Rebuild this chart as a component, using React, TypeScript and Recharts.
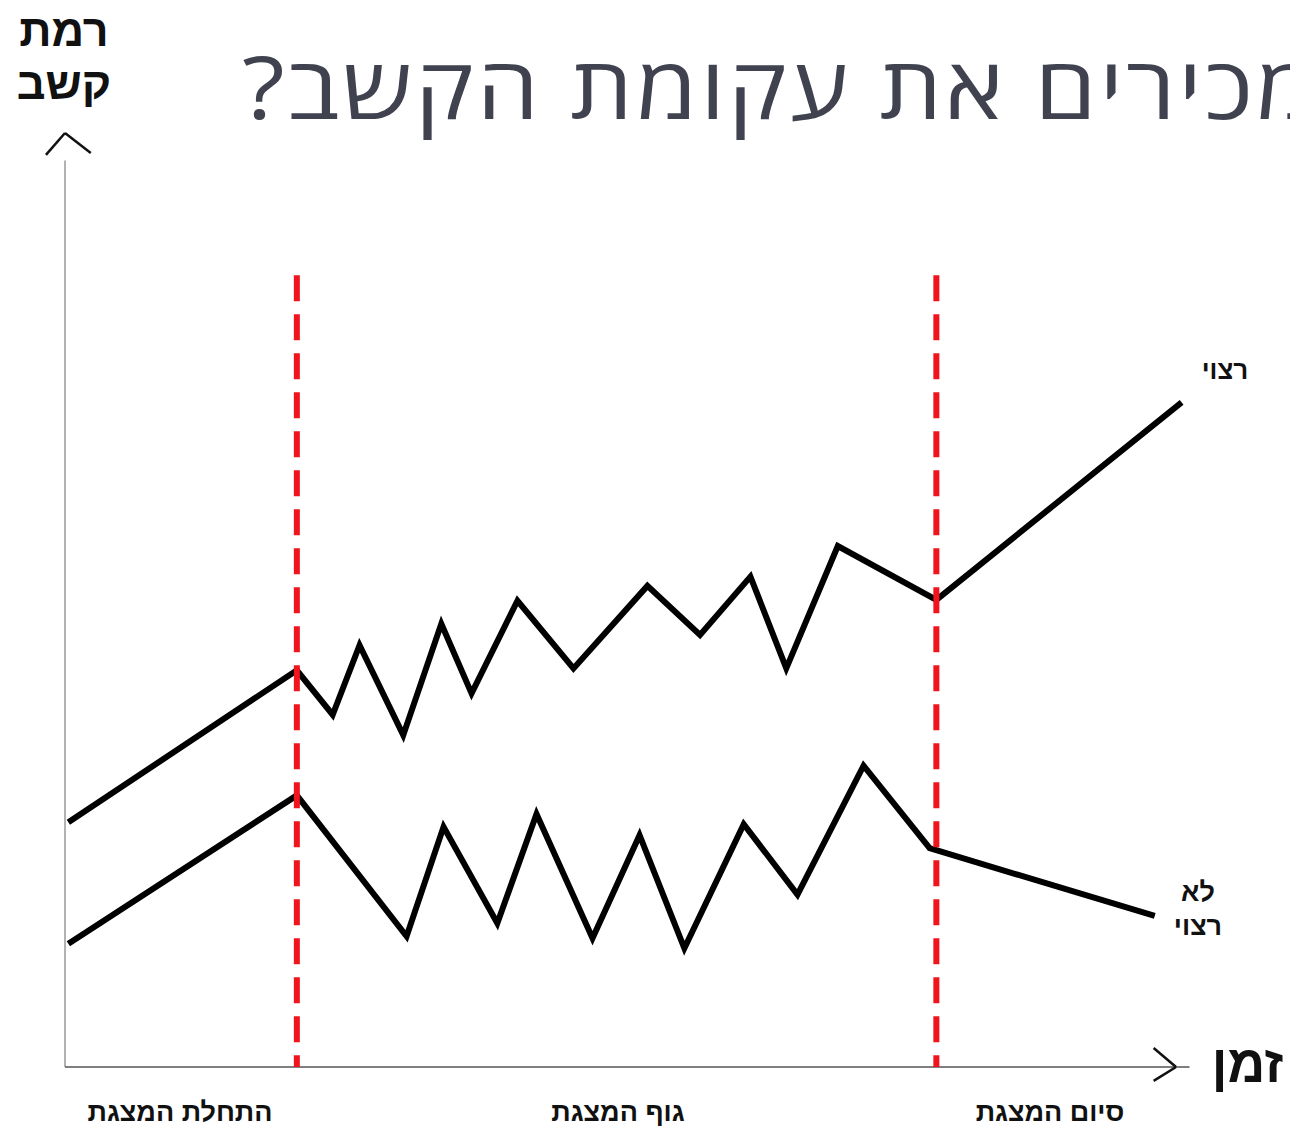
import React from 'react';
import { LineChart, Line, XAxis, YAxis, ReferenceLine } from 'recharts';

// time (0-100) / attention (0-100)
const desiredX = [0.3, 20.7, 23.9, 26.3, 30.2, 33.6, 36.3, 40.4, 45.4, 52.0, 56.7, 61.2, 64.4, 69.0, 77.8, 99.7];
const desiredY = [26.4, 42.8, 38.0, 45.5, 35.8, 47.8, 40.3, 50.3, 43.0, 51.9, 46.6, 52.9, 43.0, 56.2, 50.4, 71.7];

const undesiredX = [0.3, 20.7, 30.5, 33.8, 38.6, 42.1, 47.1, 51.3, 55.3, 60.6, 65.4, 71.3, 77.2, 97.3];
const undesiredY = [13.3, 29.3, 14.1, 25.9, 15.5, 27.3, 13.9, 25.0, 12.8, 26.2, 18.6, 32.5, 23.6, 16.3];

// phase boundaries: start / body / end of the presentation
const phaseBounds = [20.7, 77.8];
const phaseTop = 85.4;

const phaseLabels = ['התחלת המצגת', 'גוף המצגת', 'סיום המצגת'];

const desiredData = desiredX.map((x, i) => ({ x, y: desiredY[i] }));
const undesiredData = undesiredX.map((x, i) => ({ x, y: undesiredY[i] }));

const labelFont = '"Liberation Sans", Arial, sans-serif';

export default function App() {
    return (
        <div style={{ position: 'absolute', left: 0, top: 0, width: 1290, height: 1134, overflow: 'hidden', background: '#fff' }}>
            <LineChart width={1290} height={1134} margin={{ top: 140, right: 105, bottom: 67, left: 65 }}>
                <XAxis type="number" dataKey="x" domain={[0, 100]} hide />
                <YAxis type="number" dataKey="y" domain={[0, 100]} hide />

                {/* axes with arrow heads */}
                <ReferenceLine segment={[{ x: 0, y: 0 }, { x: 0, y: 97.8 }]} stroke="#999" strokeWidth={1.5} ifOverflow="visible" />
                <ReferenceLine segment={[{ x: -1.7, y: 98.4 }, { x: 0, y: 100.75 }]} stroke="#111" strokeWidth={2.5} ifOverflow="visible" />
                <ReferenceLine segment={[{ x: 0, y: 100.75 }, { x: 2.3, y: 98.6 }]} stroke="#111" strokeWidth={2.5} ifOverflow="visible" />
                <ReferenceLine segment={[{ x: 0, y: 0 }, { x: 100.4, y: 0 }]} stroke="#555" strokeWidth={1.5} ifOverflow="visible" />
                <ReferenceLine segment={[{ x: 97.2, y: 2.05 }, { x: 99.2, y: 0 }]} stroke="#111" strokeWidth={2.5} ifOverflow="visible" />
                <ReferenceLine segment={[{ x: 99.2, y: 0 }, { x: 97.2, y: -1.5 }]} stroke="#111" strokeWidth={2.5} ifOverflow="visible" />

                <Line data={desiredData} dataKey="y" type="linear" stroke="#000" strokeWidth={6} dot={false} isAnimationActive={false} />
                <Line data={undesiredData} dataKey="y" type="linear" stroke="#000" strokeWidth={6} dot={false} isAnimationActive={false} />

                {phaseBounds.map(b => (
                    <ReferenceLine
                        key={b}
                        segment={[{ x: b, y: phaseTop }, { x: b, y: 0 }]}
                        stroke="#f0141c"
                        strokeWidth={6}
                        strokeDasharray="26 13"
                        ifOverflow="visible"
                    />
                ))}
            </LineChart>

            {/* title runs off the right edge, as in the slide */}
            <div style={{ position: 'absolute', left: 242, top: 36, direction: 'rtl', whiteSpace: 'nowrap', fontFamily: '"Open Sans", "Noto Sans", sans-serif', fontSize: 86, letterSpacing: 2.5, lineHeight: '100px', color: '#41424f', transform: 'scaleX(1.15)', transformOrigin: 'left center' }}>
                מכירים את עקומת הקשב?
            </div>

            <div style={{ position: 'absolute', left: 10, top: 4, width: 108, textAlign: 'center', direction: 'rtl', fontFamily: labelFont, fontWeight: 'bold', fontSize: 45, lineHeight: '53px', color: '#111' }}>
                רמת<br />קשב
            </div>

            <div style={{ position: 'absolute', left: 1190, top: 354, width: 70, textAlign: 'center', direction: 'rtl', fontFamily: labelFont, fontWeight: 'bold', fontSize: 26, lineHeight: '33px', color: '#111' }}>
                רצוי
            </div>
            <div style={{ position: 'absolute', left: 1163, top: 875, width: 70, textAlign: 'center', direction: 'rtl', fontFamily: labelFont, fontWeight: 'bold', fontSize: 27, lineHeight: '34px', color: '#111' }}>
                לא<br />רצוי
            </div>

            <div style={{ position: 'absolute', left: 1200, top: 1034, width: 95, textAlign: 'center', direction: 'rtl', fontFamily: labelFont, fontWeight: 'bold', fontSize: 52, lineHeight: '60px', color: '#111' }}>
                זמן
            </div>

            {phaseLabels.map((t, i) => (
                <div key={t} style={{ position: 'absolute', left: [180, 618, 1050][i] - 120, top: 1094, width: 240, textAlign: 'center', direction: 'rtl', fontFamily: labelFont, fontWeight: 'bold', fontSize: 27, lineHeight: '36px', color: '#111' }}>
                    {t}
                </div>
            ))}
        </div>
    );
}
